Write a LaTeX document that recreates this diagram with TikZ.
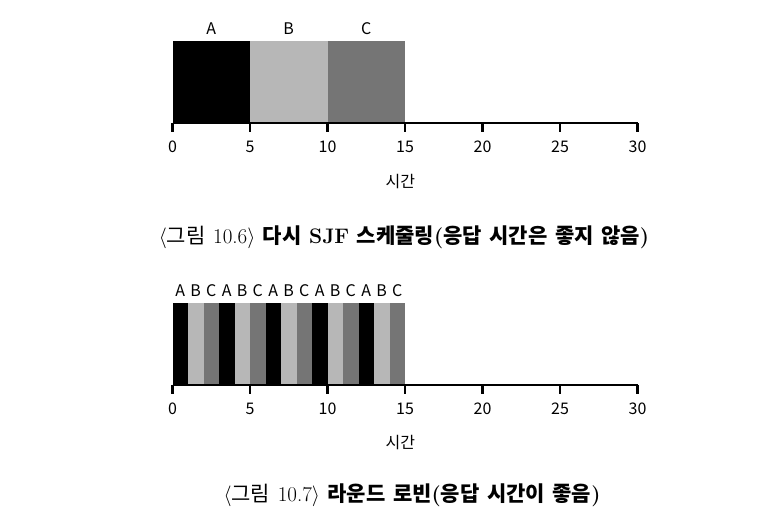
\documentclass[tikz,border=0pt]{standalone}
\usepackage{fontspec}
\newfontfamily\kr{Noto Sans CJK KR}
\usetikzlibrary{positioning}
\definecolor{grisclaro}{RGB}{183,183,183}
\definecolor{grisoscuro}{RGB}{117,117,117}
\newcommand{\letrapie}{\fontsize{21}{24}\selectfont\spaceskip=0.36em\relax}

\begin{document}
\begin{tikzpicture}[x=1pt,y=-1pt]
		% estilos
		\tikzstyle{every node}=[inner sep=0pt, font=\kr\fontsize{16}{18}\selectfont]
		\tikzstyle{eje} = [line width=2.2pt]
		\tikzstyle{procA} = [fill=black]
		\tikzstyle{procB} = [fill=grisclaro]
		\tikzstyle{procC} = [fill=grisoscuro]
		\tikzstyle{pie} = [font=\letrapie]
		\useasboundingbox (0,0) rectangle (777,523);
		% SJF
		\begin{scope}[xshift=172.5pt, x=15.5pt]
			\fill[procA] (0,41) rectangle (5,123);
			\fill[procB] (5,41) rectangle (10,123);
			\fill[procC] (10,41) rectangle (15,123);
			\node (A1) at (2.5,29) {A};
			\node (B1) at (7.5,29) {B};
			\node (C1) at (12.5,29) {C};
			\draw [eje] (0,123) -- (30,123);
			\foreach \t in {0,5,...,30} {
				\draw [eje] (\t,123) -- (\t,132);
				\node (s\t) at (\t,147) {\t};
			}
			\node (tiempo1) at (14.7,182) {시간};
		\end{scope}
		\node [pie] (fig6) at (404,237) {$\langle${\kr 그림} 10.6$\rangle$ {\kr\bfseries 다시} \textbf{SJF} {\kr\bfseries 스케줄링}\textbf{(}{\kr\bfseries 응답 시간은 좋지 않음}\textbf{)}};
		% round robin
		\begin{scope}[xshift=172.5pt, x=15.5pt]
			\foreach \l [count=\i from 0] in {A,B,C,A,B,C,A,B,C,A,B,C,A,B,C} {
				\fill[proc\l] (\i,303) rectangle (\i+1,385);
				\node (r\i) at (\i+0.5,291) {\l};
			}
			\draw [eje] (0,385) -- (30,385);
			\foreach \t in {0,5,...,30} {
				\draw [eje] (\t,385) -- (\t,394);
				\node (q\t) at (\t,409) {\t};
			}
			\node (tiempo2) at (14.7,443) {시간};
		\end{scope}
		\node [pie] (fig7) at (412,495) {$\langle${\kr 그림} 10.7$\rangle$ {\kr\bfseries 라운드 로빈}\textbf{(}{\kr\bfseries 응답 시간이 좋음}\textbf{)}};
	\end{tikzpicture}
\end{document}
